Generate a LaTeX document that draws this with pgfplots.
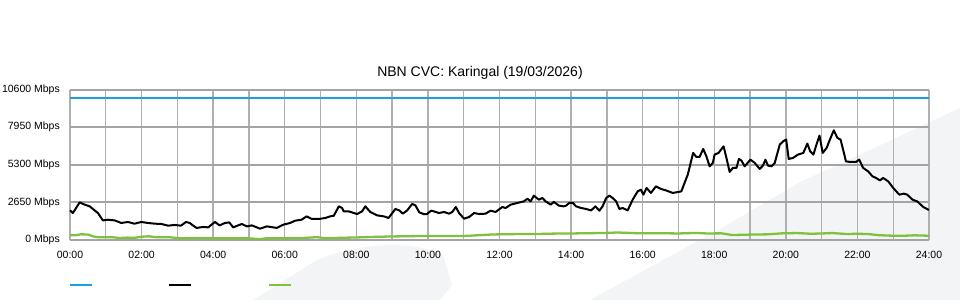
\documentclass[border=0pt]{standalone}
\usepackage{fontspec}
\setmainfont{Liberation Sans}
\usepackage{pgfplots}
\pgfplotsset{compat=1.18}
\definecolor{cblue}{HTML}{1BA1E2}
\definecolor{cgreen}{HTML}{7DC23A}
\definecolor{wm}{HTML}{F3F4F6}
\definecolor{hgrid}{HTML}{A4A4A4}
\definecolor{vgrid}{HTML}{B0B0B0}

\pgfplotstableread{
h v
0.00 2090
0.08 1900
0.27 2650
0.41 2490
0.55 2370
0.64 2185
0.78 1900
0.92 1380
1.06 1430
1.25 1380
1.43 1200
1.62 1270
1.80 1150
1.99 1270
2.18 1200
2.37 1150
2.55 1130
2.74 1010
2.92 1060
3.10 1010
3.24 1270
3.35 1200
3.43 1030
3.54 850
3.72 920
3.86 890
4.05 1270
4.18 1030
4.33 1200
4.45 1240
4.56 890
4.80 1130
4.94 960
5.08 1030
5.31 800
5.50 960
5.78 850
5.96 1080
6.15 1200
6.29 1360
6.47 1430
6.61 1665
6.76 1480
6.95 1480
7.13 1550
7.27 1665
7.37 1710
7.51 2370
7.60 2255
7.65 2015
7.79 2015
7.93 1900
8.02 1830
8.16 2015
8.25 2370
8.39 1975
8.58 1735
8.77 1665
8.90 1550
9.09 2185
9.20 2085
9.30 1855
9.42 2085
9.56 2540
9.65 2440
9.76 1945
9.88 1830
9.97 1830
10.09 2065
10.17 2015
10.31 1900
10.45 1975
10.59 1855
10.68 1975
10.78 2325
10.87 1900
11.01 1500
11.15 1620
11.29 1900
11.43 1830
11.61 1855
11.75 2065
11.89 1975
12.08 2325
12.17 2255
12.31 2490
12.50 2610
12.68 2720
12.78 2910
12.87 2720
12.96 3120
13.10 2840
13.20 2960
13.29 2720
13.43 2490
13.52 2680
13.66 2420
13.79 2370
13.86 2420
13.95 2610
14.05 2610
14.14 2370
14.28 2255
14.42 2185
14.56 2085
14.68 2370
14.79 2065
14.88 2370
14.98 2960
15.07 3125
15.16 2960
15.26 2720
15.35 2185
15.44 2255
15.58 2085
15.72 2840
15.86 3425
15.95 3545
16.02 3195
16.11 3665
16.23 3315
16.37 3780
16.51 3595
16.65 3495
16.84 3315
17.00 3385
17.08 3425
17.17 4020
17.26 4605
17.41 6135
17.50 5850
17.59 5850
17.69 6415
17.78 5895
17.87 5190
17.96 5430
18.01 6015
18.12 6135
18.26 6600
18.34 5780
18.43 4795
18.52 5075
18.62 5075
18.69 5710
18.76 5590
18.85 5190
19.01 5660
19.13 5430
19.27 5005
19.36 5240
19.43 5660
19.50 5240
19.60 5190
19.69 5430
19.83 6720
19.95 7000
20.01 7070
20.08 5710
20.20 5780
20.34 6015
20.49 6135
20.60 6790
20.68 6245
20.77 6015
20.84 6600
20.94 7355
21.03 6135
21.14 6485
21.23 7070
21.34 7725
21.44 7190
21.53 7070
21.68 5540
21.79 5500
21.96 5500
22.05 5660
22.16 5075
22.30 4835
22.42 4485
22.52 4370
22.63 4200
22.72 4370
22.86 4130
23.00 3665
23.17 3195
23.30 3265
23.39 3195
23.54 2840
23.67 2720
23.84 2325
23.98 2135
24.00 2135
}\blacktab

\pgfplotstableread{
h v
0 350
0.15 330
0.3 400
0.5 390
0.65 250
0.8 190
1.2 190
1.4 140
1.6 170
1.8 150
2.0 230
2.2 260
2.4 200
2.8 190
3.0 140
3.2 120
3.5 140
4.0 130
4.5 130
5.0 120
5.3 50
5.5 130
6.0 130
6.5 140
6.9 200
7.1 130
7.5 150
8.0 180
8.5 220
9.0 250
9.5 270
10 290
10.5 280
11 280
11.5 350
11.8 390
12.5 420
13 420
13.5 450
14 460
14.5 480
15 500
15.3 530
15.7 490
16 470
16.5 480
17 460
17.5 500
17.8 460
18.2 470
18.5 350
19 380
19.5 400
19.9 470
20.3 490
20.7 440
21 460
21.3 490
21.7 420
22 440
22.3 420
22.6 340
23 300
23.3 300
23.6 330
24 300
}\greentab

\begin{document}
\fontsize{10.5bp}{12bp}\selectfont
\begin{tikzpicture}
\begin{scope}[x=1bp,y=-1bp,shift={(-70bp,240bp)}]
\useasboundingbox (0,0) rectangle (960,300);
\fill[wm] (253,300) -- (317,260) .. controls (350,245) and (410,238) .. (443,255) -- (452,285) -- (440,300) -- cycle;
\fill[wm] (590,300) -- (663,260) -- (720,229) -- (800,182) -- (870,150) -- (960,108) -- (960,300) -- cycle;
\node[font=\fontsize{14bp}{16bp}\selectfont, anchor=base] at (480,76) {NBN CVC: Karingal (19/03/2026)};
\end{scope}
\begin{axis}[
  at={(0,0)}, anchor=south west, scale only axis,
  width=859bp, height=150.5bp,
  xmin=0, xmax=24, ymin=0, ymax=10600,
  scaled ticks=false,
  xtick={0,1,2,3,4,5,6,7,8,9,10,11,12,13,14,15,16,17,18,19,20,21,22,23,24},
  xticklabels={00:00,,02:00,,04:00,,06:00,,08:00,,10:00,,12:00,,14:00,,16:00,,18:00,,20:00,,22:00,,24:00},
  ytick={0,2650,5300,7950,10600},
  yticklabels={0 Mbps,2650 Mbps,5300 Mbps,7950 Mbps,10600 Mbps},
  xmajorgrids=true, ymajorgrids=true,
  every major grid/.style={},
  x grid style={draw=vgrid, line width=1.4bp},
  y grid style={draw=hgrid, line width=2bp},
  axis x line*=bottom, axis y line*=left,
  axis line style={draw=none},
  major tick length=0pt,
  tick label style={font=\fontsize{10.5bp}{12bp}\selectfont, text=black},
  yticklabel style={anchor=east, inner sep=0pt, xshift=-10bp},
  xticklabel style={anchor=north, inner sep=0pt, yshift=-11bp},
  clip=false,
  legend columns=3,
  legend style={at={(0,0)}, anchor=west, xshift=-1bp, yshift=-45bp,
    draw=none, fill=none, inner sep=0pt, outer sep=0pt,
    nodes={inner sep=0pt}, column sep=0pt,
    /tikz/every even column/.append style={column sep=74.5bp}},
  legend image code/.code={\draw[#1] (0bp,0bp) -- (22bp,0bp);},
]
\addplot[cblue, line width=2bp] coordinates {(0,10000) (24,10000)};
\addlegendentry{\mbox{}}
\addplot[black, line width=2bp, line join=round] table[x=h, y=v] {\blacktab};
\addlegendentry{\mbox{}}
\addplot[cgreen, line width=2.3bp, line join=round] table[x=h, y=v] {\greentab};
\addlegendentry{\mbox{}}
\end{axis}
\end{tikzpicture}
\end{document}
